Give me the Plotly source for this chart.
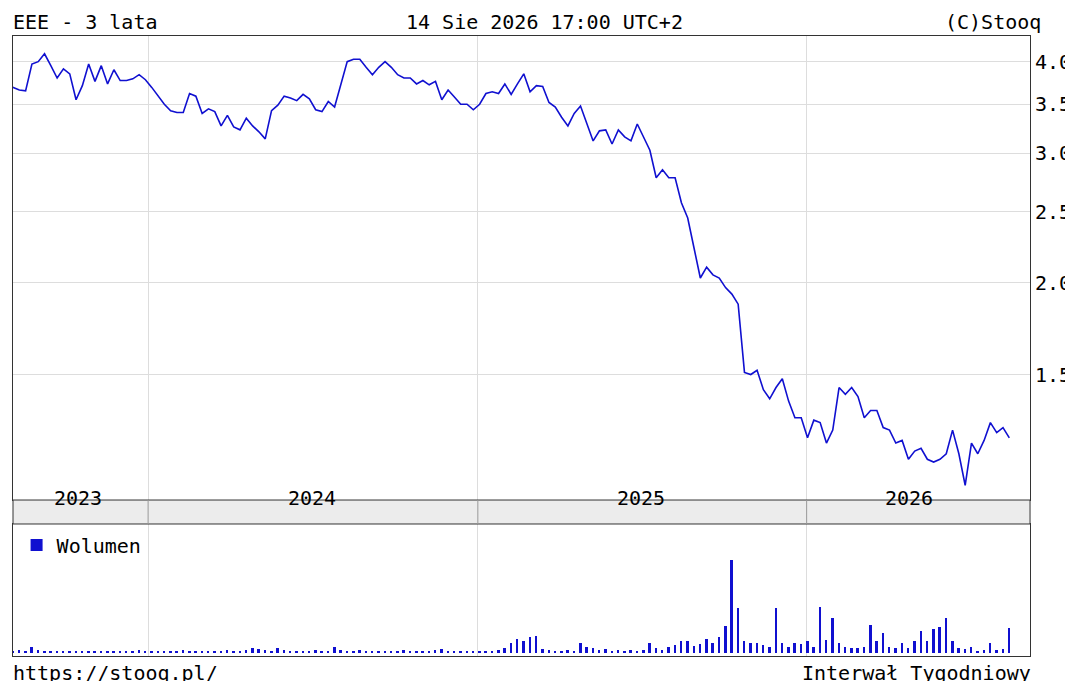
import pandas as pd
import plotly.graph_objects as go

prices = [
    3.72, 3.69, 3.66, 3.65, 3.97, 4.00, 4.10, 3.95, 3.80, 3.91,
    3.85, 3.55, 3.71, 3.97, 3.76, 3.95, 3.73, 3.90, 3.77, 3.77,
    3.79, 3.84, 3.78, 3.69, 3.59, 3.50, 3.43, 3.41, 3.41, 3.62,
    3.59, 3.40, 3.45, 3.42, 3.27, 3.38, 3.26, 3.23, 3.35, 3.27,
    3.21, 3.14, 3.43, 3.49, 3.59, 3.57, 3.54, 3.61, 3.56, 3.44,
    3.42, 3.53, 3.47, 3.73, 4.00, 4.03, 4.03, 3.93, 3.84, 3.93,
    4.00, 3.93, 3.84, 3.80, 3.80, 3.73, 3.77, 3.72, 3.76, 3.55,
    3.66, 3.58, 3.50, 3.50, 3.44, 3.50, 3.62, 3.64, 3.62, 3.73,
    3.61, 3.73, 3.85, 3.64, 3.71, 3.70, 3.52, 3.47, 3.36, 3.27,
    3.40, 3.48, 3.29, 3.12, 3.22, 3.23, 3.09, 3.23, 3.16, 3.12,
    3.29, 3.16, 3.03, 2.78, 2.85, 2.78, 2.78, 2.57, 2.45, 2.23,
    2.03, 2.10, 2.05, 2.03, 1.97, 1.93, 1.87, 1.51, 1.50, 1.52,
    1.43, 1.39, 1.44, 1.48, 1.38, 1.31, 1.31, 1.23, 1.30, 1.29,
    1.21, 1.26, 1.44, 1.41, 1.44, 1.40, 1.31, 1.34, 1.34, 1.27,
    1.26, 1.21, 1.22, 1.15, 1.18, 1.19, 1.15, 1.14, 1.15, 1.17,
    1.26, 1.17, 1.06, 1.21, 1.17, 1.22, 1.29, 1.25, 1.27, 1.23,
]

volume = [
    2, 2, 3, 2, 6, 3, 2, 2, 1, 2,
    2, 1, 2, 2, 1, 2, 2, 2, 1, 2,
    2, 3, 2, 2, 2, 1, 2, 2, 3, 2,
    2, 2, 2, 1, 2, 3, 2, 2, 3, 5,
    4, 3, 2, 5, 3, 2, 2, 2, 2, 3,
    2, 2, 6, 3, 2, 2, 3, 2, 2, 1,
    2, 2, 2, 3, 2, 2, 2, 2, 3, 4,
    2, 2, 2, 2, 2, 2, 2, 2, 3, 5,
    10, 14, 12, 16, 17, 4, 3, 2, 2, 3,
    2, 10, 6, 5, 3, 4, 2, 3, 2, 3,
    2, 3, 10, 5, 3, 6, 8, 12, 12, 7,
    9, 14, 10, 16, 27, 93, 45, 12, 10, 10,
    8, 6, 45, 10, 6, 10, 9, 12, 6, 46,
    13, 35, 10, 6, 5, 5, 6, 28, 12, 20,
    6, 5, 10, 5, 12, 22, 12, 24, 26, 35,
    12, 5, 4, 6, 2, 3, 10, 3, 4, 25,
]

dates = pd.date_range(end="2026-08-14", periods=len(prices), freq="7D")

year_labels = ["2023", "2024", "2025", "2026"]
year_label_pos = ["2023-10-15", "2024-07-01", "2025-07-01", "2026-04-25"]
year_starts = ["2024-01-01", "2025-01-01", "2026-01-01"]
price_ticks = [1.5, 2.0, 2.5, 3.0, 3.5, 4.0]

BLUE = "#1010d0"
FONT = "DejaVu Sans Mono"
FS = 20
x_range = ["2023-08-04", "2026-09-06"]

fig = go.Figure()
fig.add_trace(go.Scatter(x=dates, y=prices, mode="lines",
                         line=dict(color=BLUE, width=1.6), showlegend=False))
fig.add_trace(go.Bar(x=dates, y=volume, xaxis="x2", yaxis="y2",
                     marker=dict(color=BLUE, line=dict(width=0)),
                     width=2.2 * 86400000, name="Wolumen"))

axis_common = dict(showline=True, linecolor="#333", mirror=True,
                   gridcolor="#dddddd", zeroline=False)

fig.update_layout(
    width=1073, height=681,
    margin=dict(l=0, r=0, t=0, b=0, autoexpand=False),
    paper_bgcolor="white", plot_bgcolor="white",
    font=dict(family=FONT, size=FS, color="black"),
    xaxis=dict(domain=[0.00466, 0.9525], range=x_range, showticklabels=False,
               tickvals=year_starts, **axis_common),
    yaxis=dict(domain=[0.2775, 0.9589], type="log", range=[0.0052, 0.637],
               side="right", tickvals=price_ticks,
               ticktext=[f"{v:.1f}" for v in price_ticks], ticks="",
               **axis_common),
    xaxis2=dict(domain=[0.00466, 0.9525], range=x_range, anchor="y2",
                showticklabels=False, tickvals=year_starts, **axis_common),
    yaxis2=dict(domain=[0.0485, 0.2423], range=[-3, 129], anchor="x2",
                showticklabels=False, showgrid=False, showline=True,
                linecolor="#333", mirror=True, zeroline=False),
    legend=dict(x=0.008, y=0.24, xanchor="left", yanchor="top",
                bgcolor="rgba(0,0,0,0)", font=dict(size=FS),
                itemwidth=30, tracegroupgap=0),
    showlegend=True,
    bargap=0,
)

# year band between panels
fig.add_shape(type="rect", xref="paper", yref="paper",
              x0=0.00466, x1=0.9525, y0=0.2423, y1=0.2775,
              fillcolor="#ececec", line=dict(color="#333", width=1))
for d in year_starts:
    fig.add_shape(type="line", xref="x", yref="paper", x0=d, x1=d,
                  y0=0.2423, y1=0.2775, line=dict(color="#999", width=1))
for lab, pos in zip(year_labels, year_label_pos):
    fig.add_annotation(x=pos, y=0.2599, xref="x", yref="paper", text=lab,
                       showarrow=False, font=dict(size=FS))

texts = [
    ("EEE - 3 lata", 0.003, 1.0, "left"),
    ("14 Sie 2026 17:00 UTC+2", 0.5, 1.0, "center"),
    ("(C)Stooq", 0.965, 1.0, "right"),
    ("https://stooq.pl/", 0.003, 0.003, "left"),
    ("Interwał Tygodniowy", 0.955, 0.003, "right"),
]
for t, x, y, anc in texts:
    fig.add_annotation(x=x, y=y, xref="paper", yref="paper", text=t,
                       showarrow=False, xanchor=anc,
                       yanchor="top" if y > 0.5 else "bottom",
                       font=dict(size=FS))

fig.write_html("out.html")
